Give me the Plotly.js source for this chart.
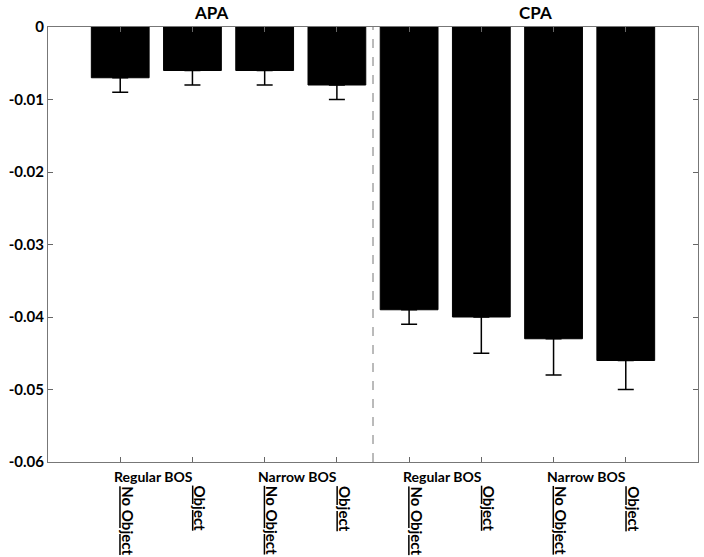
<!DOCTYPE html>
<html>
<head>
<meta charset="utf-8">
<script src="https://cdn.plot.ly/plotly-3.0.1.min.js"></script>
<style>html,body{margin:0;padding:0;background:#fff;}#chart{width:704px;height:557px;}</style>
</head>
<body>
<div id="chart"></div>
<script>
// Data
const positions = [1, 2, 3, 4, 5, 6, 7, 8];
const values = [-0.007, -0.006, -0.006, -0.008, -0.039, -0.040, -0.043, -0.046];
const errorsDown = [0.002, 0.002, 0.002, 0.002, 0.002, 0.005, 0.005, 0.004];
const conditionLabels = ["No Object", "Object", "No Object", "Object", "No Object", "Object", "No Object", "Object"];
const baseLabels = ["Regular BOS", "Narrow BOS", "Regular BOS", "Narrow BOS"];
const baseLabelPositions = [1.5, 3.5, 5.5, 7.5];
const panelTitles = ["APA", "CPA"];
const panelTitlePositions = [2.25, 6.75];
const yTickVals = [0, -0.01, -0.02, -0.03, -0.04, -0.05, -0.06];
const yTickText = ["0", "-0.01", "-0.02", "-0.03", "-0.04", "-0.05", "-0.06"];
const dividerX = 4.5;

const FONT = "Lato, 'Open Sans', sans-serif";

const trace = {
  type: 'bar',
  x: positions,
  y: values,
  width: 0.8,
  marker: {color: '#000', line: {color: '#000', width: 1}},
  error_y: {
    type: 'data', symmetric: false,
    array: positions.map(() => 0),
    arrayminus: errorsDown,
    color: '#000', thickness: 1.5, width: 8
  },
  hoverinfo: 'none'
};

const annotations = [];
baseLabels.forEach((t, i) => {
  annotations.push({
    text: '<b>' + t + '</b>', x: baseLabelPositions[i], xref: 'x', y: 0, yref: 'paper',
    xanchor: 'center', yanchor: 'top', yshift: -4, xshift: -3, showarrow: false,
    font: {family: FONT, size: 14, color: '#000'}
  });
});
conditionLabels.forEach((t, i) => {
  annotations.push({
    text: '<b><u>' + t + '</u></b>', x: positions[i], xref: 'x', y: 0, yref: 'paper',
    xanchor: 'left', yanchor: 'top', yshift: -22, xshift: -3, textangle: 90, showarrow: false,
    font: {family: FONT, size: 15, color: '#000'}
  });
});
panelTitles.forEach((t, i) => {
  annotations.push({
    text: '<b>' + t + '</b>', x: panelTitlePositions[i], xref: 'x', y: 1, yref: 'paper',
    xanchor: 'center', yanchor: 'bottom', yshift: 2, showarrow: false,
    font: {family: FONT, size: 17, color: '#000'}
  });
});

const layout = {
  width: 704, height: 557,
  margin: {l: 48, r: 6, t: 27, b: 95, pad: 0},
  paper_bgcolor: '#fff', plot_bgcolor: '#fff',
  showlegend: false,
  font: {family: FONT, color: '#000'},
  xaxis: {
    range: [0, 9], tickvals: positions, ticktext: positions.map(() => ''),
    ticks: 'inside', ticklen: 5, tickcolor: '#666', tickwidth: 1,
    showline: true, linecolor: '#777', linewidth: 1, mirror: 'ticks',
    showgrid: false, zeroline: false, fixedrange: true
  },
  yaxis: {
    range: [-0.06, 0], tickvals: yTickVals, ticktext: yTickText,
    ticks: 'inside', ticklen: 5, tickcolor: '#666', tickwidth: 1,
    showline: true, linecolor: '#777', linewidth: 1, mirror: 'ticks',
    showgrid: false, zeroline: false, fixedrange: true,
    tickfont: {family: FONT, size: 15, color: '#000', weight: 'bold'}
  },
  shapes: [{
    type: 'line', xref: 'x', yref: 'paper', x0: dividerX, x1: dividerX, y0: 0, y1: 1,
    line: {color: '#777', width: 1, dash: 'dash'}
  }],
  annotations: annotations
};

Plotly.newPlot('chart', [trace], layout, {displayModeBar: false, staticPlot: true});
</script>
</body>
</html>
